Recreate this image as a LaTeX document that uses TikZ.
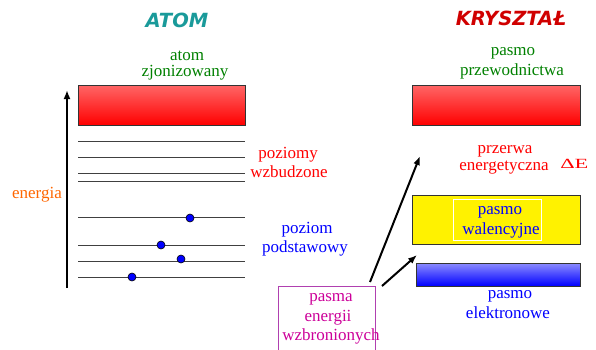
\documentclass[tikz,border=0pt]{standalone}
\usepackage{fontspec}
\setmainfont{Liberation Serif}
\newfontfamily\lblfont{Liberation Serif}
\newfontfamily\titlefont{DejaVu Sans}
\usetikzlibrary{arrows.meta}
\definecolor{tealc}{HTML}{1A9A9A}
\definecolor{krred}{HTML}{D00000}
\definecolor{grn}{HTML}{008000}
\definecolor{orng}{HTML}{FF6600}
\definecolor{mag}{HTML}{CC0099}
\definecolor{magbox}{HTML}{B040B0}
\definecolor{lvl}{HTML}{404040}
\tikzset{
  title/.style={font=\titlefont\bfseries\itshape\fontsize{19.5}{20}\selectfont, inner sep=0pt},
  lbl/.style={font=\lblfont\fontsize{17}{18}\selectfont, align=center, inner sep=0pt},
  redband/.style={draw=black!80, line width=0.8pt, top color=red!60!white, bottom color=red},
  level/.style={draw=lvl, line width=1pt},
  electron/.style={circle, fill=blue, draw=black, line width=0.6pt, inner sep=0pt, minimum size=8pt},
  arr/.style={-{Latex[length=9pt,width=7pt]}, line width=2pt, black}
}
\begin{document}
\begin{tikzpicture}[x=1pt,y=-1pt]
\useasboundingbox (0,0) rectangle (596,349);

% headings
\node[title, text=tealc] (hatom) at (177,20) {ATOM};
\node[title, text=krred] (hkr) at (511,18) {KRYSZTAŁ};

% ---- atom side ----
\node[lbl, text=grn] (jon1) at (187,56) {atom};
\node[lbl, text=grn] (jon2) at (185,73) {zjonizowany};
\path[redband] (78,85) rectangle (245,125);

% energy axis
\coordinate (axbot) at (67,288);
\coordinate (axtop) at (67,90);
\draw[arr] (axbot) -- (axtop);
\node[lbl, text=orng] (en) at (37,195) {energia};

% energy levels
\foreach \y/\n in {141/a,157/b,173/c,181/d,217/e,245/f,261/g,277/h}{
  \coordinate (l\n w) at (78,\y);
  \coordinate (l\n e) at (245,\y);
  \draw[level] (l\n w) -- (l\n e);
}
\node[electron] (e1) at (190,218) {};
\node[electron] (e2) at (161,245) {};
\node[electron] (e3) at (181,259) {};
\node[electron] (e4) at (132,277) {};

\node[lbl, text=red] (wz1) at (288,155) {poziomy};
\node[lbl, text=red] (wz2) at (289,172) {wzbudzone};
\node[lbl, text=blue] (pd1) at (307,230) {poziom};
\node[lbl, text=blue] (pd2) at (305,248) {podstawowy};

% ---- crystal side ----
\node[lbl, text=grn] (pp1) at (513,53) {pasmo};
\node[lbl, text=grn] (pp2) at (512,71) {przewodnictwa};
\path[redband] (412,85) rectangle (580,125);

\node[lbl, text=red] (pe1) at (505,151) {przerwa};
\node[lbl, text=red] (pe2) at (504,168) {energetyczna};
\node[lbl, text=red, font=\lblfont\fontsize{14}{14}\selectfont, xscale=1.6, transform shape, anchor=west] (dE) at (560,164) {ΔE};

\path[draw=black!80, line width=0.8pt, fill=yellow] (412,195) rectangle (580,244);
\draw[white, line width=0.6pt] (453,199) rectangle (541,240);
\node[lbl, text=blue] (pw1) at (500,212) {pasmo};
\node[lbl, text=blue] (pw2) at (501,230) {walencyjne};

\path[draw=black!80, line width=0.8pt, top color=blue!45!white, bottom color=blue] (416,263) rectangle (580,286);
\node[lbl, text=blue] (pl1) at (510,296) {pasmo};
\node[lbl, text=blue] (pl2) at (508,313) {elektronowe};

% forbidden bands box and its arrows
\draw[magbox, line width=0.8pt] (278.5,352) -- (278.5,286.5) -- (375,286.5) -- (375,352);
\node[lbl, text=mag] (wb1) at (331,299) {pasma};
\node[lbl, text=mag] (wb2) at (328,318) {energii};
\node[lbl, text=mag] (wb3) at (331,336) {wzbronionych};

\coordinate (a1s) at (370,282);
\coordinate (a1e) at (420,156);
\coordinate (a2s) at (382,286);
\coordinate (a2e) at (417,255);
\draw[arr] (a1s) -- (a1e);
\draw[arr] (a2s) -- (a2e);
\end{tikzpicture}
\end{document}
